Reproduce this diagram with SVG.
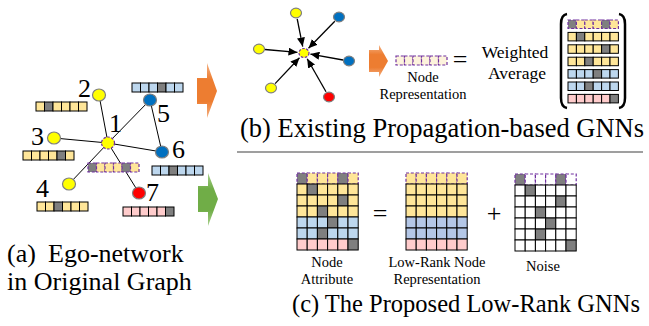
<svg xmlns="http://www.w3.org/2000/svg" width="649" height="326" viewBox="0 0 649 326" font-family="'Liberation Serif','Times New Roman',serif">
<style>
text{font-family:"Liberation Serif","Times New Roman",serif;fill:#000}
.lbl{font-size:26px}
.num{font-size:26px}
.sm{font-size:14.5px;text-anchor:middle}
.edge{stroke:#000;stroke-width:1;fill:none}
.arr{stroke:#000;stroke-width:1.3;fill:none;marker-end:url(#ah)}
.ny{fill:#FFFF00;stroke:#7F7F7F;stroke-width:1.2}
.nb{fill:#0070C0;stroke:#7F7F7F;stroke-width:1.2}
.nr{fill:#FF0000;stroke:#7F7F7F;stroke-width:1.2}
.nc{fill:#FFFF00;stroke:#7030A0;stroke-width:1.2;stroke-dasharray:2.5 1.5}
rect{stroke:#000;stroke-width:1}
.Y{fill:#FFE699}.G{fill:#7F7F7F}.B{fill:#BDD7EE}.P{fill:#FFCCCC}.W{fill:#FFFFFF}.L{fill:#B4C7E7}.V{fill:#FDF3DC}
.d{stroke:#7030A0;stroke-dasharray:3 1.8;stroke-width:1.2}
.br{stroke:#000;stroke-width:2.5;fill:none}
</style>
<defs>
<marker id="ah" markerUnits="userSpaceOnUse" markerWidth="9" markerHeight="8" viewBox="0 0 9 8" refX="9" refY="4" orient="auto"><path d="M0,0 L9,4 L0,8 z" fill="#000"/></marker>
<linearGradient id="og" x1="0" y1="0" x2="0" y2="1"><stop offset="0" stop-color="#F4B183"/><stop offset="0.3" stop-color="#ED7D31"/><stop offset="0.7" stop-color="#ED7D31"/><stop offset="1" stop-color="#F4B183"/></linearGradient>
<linearGradient id="gg" x1="0" y1="0" x2="0" y2="1"><stop offset="0" stop-color="#A9D18E"/><stop offset="0.3" stop-color="#70AD47"/><stop offset="0.7" stop-color="#70AD47"/><stop offset="1" stop-color="#A9D18E"/></linearGradient>
</defs>

<!-- (a) ego network -->
<g id="connectors-a">
<line class="edge" x1="108" y1="143" x2="99" y2="95"/>
<line class="edge" x1="108" y1="143" x2="54" y2="138"/>
<line class="edge" x1="108" y1="143" x2="69" y2="184"/>
<line class="edge" x1="108" y1="143" x2="150" y2="100"/>
<line class="edge" x1="108" y1="143" x2="162" y2="152"/>
<line class="edge" x1="108" y1="143" x2="139" y2="193"/>
<line class="edge" x1="150" y1="100" x2="162" y2="152"/>
</g>
<g id="node-a2"><ellipse class="ny" cx="99" cy="95" rx="6.5" ry="6"/><text class="num" x="78" y="97">2</text>
<g transform="translate(36,102)"><rect class="Y" x="0" width="8.5" height="9"/><rect class="G" x="8.5" width="8.5" height="9"/><rect class="Y" x="17" width="8.5" height="9"/><rect class="Y" x="25.5" width="8.5" height="9"/><rect class="Y" x="34" width="8.5" height="9"/><rect class="Y" x="42.5" width="8.5" height="9"/></g></g>
<g id="node-a3"><ellipse class="ny" cx="54" cy="138" rx="6.5" ry="6"/><text class="num" x="31" y="145">3</text>
<g transform="translate(23,151)"><rect class="Y" x="0" width="8.5" height="9"/><rect class="Y" x="8.5" width="8.5" height="9"/><rect class="Y" x="17" width="8.5" height="9"/><rect class="Y" x="25.5" width="8.5" height="9"/><rect class="G" x="34" width="8.5" height="9"/><rect class="Y" x="42.5" width="8.5" height="9"/></g></g>
<g id="node-a4"><ellipse class="ny" cx="69" cy="184" rx="6.5" ry="6"/><text class="num" x="36" y="197">4</text>
<g transform="translate(37,202)"><rect class="Y" x="0" width="8.5" height="9"/><rect class="Y" x="8.5" width="8.5" height="9"/><rect class="G" x="17" width="8.5" height="9"/><rect class="Y" x="25.5" width="8.5" height="9"/><rect class="Y" x="34" width="8.5" height="9"/><rect class="Y" x="42.5" width="8.5" height="9"/></g></g>
<g id="node-a5"><ellipse class="nb" cx="150" cy="100" rx="6.5" ry="6"/><text class="num" x="157" y="122">5</text>
<g transform="translate(132,83)"><rect class="B" x="0" width="8.5" height="9"/><rect class="B" x="8.5" width="8.5" height="9"/><rect class="B" x="17" width="8.5" height="9"/><rect class="G" x="25.5" width="8.5" height="9"/><rect class="B" x="34" width="8.5" height="9"/><rect class="B" x="42.5" width="8.5" height="9"/></g></g>
<g id="node-a6"><ellipse class="nb" cx="162" cy="152" rx="6.5" ry="6"/><text class="num" x="172" y="158">6</text>
<g transform="translate(152,166)"><rect class="B" x="0" width="8.5" height="9"/><rect class="B" x="8.5" width="8.5" height="9"/><rect class="G" x="17" width="8.5" height="9"/><rect class="B" x="25.5" width="8.5" height="9"/><rect class="B" x="34" width="8.5" height="9"/><rect class="B" x="42.5" width="8.5" height="9"/></g></g>
<g id="node-a7"><ellipse class="nr" cx="139" cy="193" rx="6.5" ry="6"/><text class="num" x="146" y="201">7</text>
<g transform="translate(123,207)"><rect class="P" x="0" width="8.5" height="9"/><rect class="P" x="8.5" width="8.5" height="9"/><rect class="P" x="17" width="8.5" height="9"/><rect class="P" x="25.5" width="8.5" height="9"/><rect class="P" x="34" width="8.5" height="9"/><rect class="G" x="42.5" width="8.5" height="9"/></g></g>
<g id="node-a1"><ellipse class="nc" cx="108" cy="143" rx="6.5" ry="6"/><text class="num" x="109" y="132">1</text>
<g transform="translate(88,163)"><rect class="G d" x="0" width="8.5" height="9"/><rect class="Y d" x="8.5" width="8.5" height="9"/><rect class="Y d" x="17" width="8.5" height="9"/><rect class="Y d" x="25.5" width="8.5" height="9"/><rect class="G d" x="34" width="8.5" height="9"/><rect class="Y d" x="42.5" width="8.5" height="9"/></g></g>
<g id="caption-a"><text class="lbl" x="7" y="262">(a)</text><text class="lbl" x="48" y="262">Ego-network</text><text class="lbl" x="7" y="290">in Original Graph</text></g>

<!-- big arrows -->
<g id="arrow-orange"><polygon points="197,78 207,78 207,63 217,91 207,118 207,104 197,104" fill="url(#og)"/></g>
<g id="arrow-green"><polygon points="198,186 208,186 208,173 218,199 208,226 208,212 198,212" fill="url(#gg)"/></g>

<!-- (b) -->
<g id="connectors-b">
<line class="arr" x1="297.2" y1="18.9" x2="302.7" y2="46.6"/>
<line class="arr" x1="334.8" y1="21.3" x2="308.5" y2="48.3"/>
<line class="arr" x1="265" y1="49.5" x2="297.5" y2="52.4"/>
<line class="arr" x1="343" y1="60" x2="310.4" y2="54.1"/>
<line class="arr" x1="275.1" y1="83.6" x2="299.5" y2="57.7"/>
<line class="arr" x1="326" y1="91.8" x2="307.2" y2="58.7"/>
</g>
<g id="node-b-c"><ellipse class="nc" cx="304" cy="53" rx="5" ry="4.5"/></g>
<g id="node-b1"><ellipse class="ny" cx="296" cy="13" rx="5.5" ry="4.8"/></g>
<g id="node-b2"><ellipse class="nb" cx="339" cy="17" rx="5.5" ry="4.8"/></g>
<g id="node-b3"><ellipse class="ny" cx="259" cy="49" rx="5.5" ry="4.8"/></g>
<g id="node-b4"><ellipse class="nb" cx="349" cy="61" rx="5.5" ry="4.8"/></g>
<g id="node-b5"><ellipse class="ny" cx="271" cy="88" rx="5.5" ry="4.8"/></g>
<g id="node-b6"><ellipse class="nr" cx="329" cy="97" rx="5.5" ry="4.8"/></g>
<g id="arrow-orange-small"><polygon points="369,50 379,50 379,45 388,61 379,77 379,72 369,72" fill="url(#og)"/></g>
<g id="node-rep-b">
<g transform="translate(396,56)"><rect class="V d" x="0" width="8.5" height="9"/><rect class="V d" x="8.5" width="8.5" height="9"/><rect class="V d" x="17" width="8.5" height="9"/><rect class="V d" x="25.5" width="8.5" height="9"/><rect class="V d" x="34" width="8.5" height="9"/><rect class="V d" x="42.5" width="8.5" height="9"/></g>
<text class="sm" x="423" y="82">Node</text><text class="sm" x="423" y="99">Representation</text>
</g>
<text x="460" y="68" style="font-size:26px;text-anchor:middle">=</text>
<text x="515" y="58" style="font-size:17.5px;text-anchor:middle">Weighted</text>
<text x="517" y="79" style="font-size:17.5px;text-anchor:middle">Average</text>
<g id="matrix-b">
<path class="br" d="M567,14 Q561,15 561,24 L561,98 Q561,107 567,108"/>
<path class="br" d="M619,14 Q625,15 625,24 L625,98 Q625,107 619,108"/>
<g transform="translate(568,20)"><rect class="G d" x="0" width="8.4" height="8.5"/><rect class="Y d" x="8.4" width="8.4" height="8.5"/><rect class="Y d" x="16.8" width="8.4" height="8.5"/><rect class="Y d" x="25.2" width="8.4" height="8.5"/><rect class="G d" x="33.6" width="8.4" height="8.5"/><rect class="Y d" x="42" width="8.4" height="8.5"/></g>
<g transform="translate(568,32.4)"><rect class="Y" x="0" width="8.4" height="8.5"/><rect class="G" x="8.4" width="8.4" height="8.5"/><rect class="Y" x="16.8" width="8.4" height="8.5"/><rect class="Y" x="25.2" width="8.4" height="8.5"/><rect class="Y" x="33.6" width="8.4" height="8.5"/><rect class="Y" x="42" width="8.4" height="8.5"/></g>
<g transform="translate(568,44.8)"><rect class="Y" x="0" width="8.4" height="8.5"/><rect class="Y" x="8.4" width="8.4" height="8.5"/><rect class="Y" x="16.8" width="8.4" height="8.5"/><rect class="Y" x="25.2" width="8.4" height="8.5"/><rect class="G" x="33.6" width="8.4" height="8.5"/><rect class="Y" x="42" width="8.4" height="8.5"/></g>
<g transform="translate(568,57.2)"><rect class="Y" x="0" width="8.4" height="8.5"/><rect class="Y" x="8.4" width="8.4" height="8.5"/><rect class="G" x="16.8" width="8.4" height="8.5"/><rect class="Y" x="25.2" width="8.4" height="8.5"/><rect class="Y" x="33.6" width="8.4" height="8.5"/><rect class="Y" x="42" width="8.4" height="8.5"/></g>
<g transform="translate(568,69.6)"><rect class="B" x="0" width="8.4" height="8.5"/><rect class="B" x="8.4" width="8.4" height="8.5"/><rect class="B" x="16.8" width="8.4" height="8.5"/><rect class="G" x="25.2" width="8.4" height="8.5"/><rect class="B" x="33.6" width="8.4" height="8.5"/><rect class="B" x="42" width="8.4" height="8.5"/></g>
<g transform="translate(568,82)"><rect class="B" x="0" width="8.4" height="8.5"/><rect class="B" x="8.4" width="8.4" height="8.5"/><rect class="G" x="16.8" width="8.4" height="8.5"/><rect class="B" x="25.2" width="8.4" height="8.5"/><rect class="B" x="33.6" width="8.4" height="8.5"/><rect class="B" x="42" width="8.4" height="8.5"/></g>
<g transform="translate(568,94.4)"><rect class="P" x="0" width="8.4" height="8.5"/><rect class="P" x="8.4" width="8.4" height="8.5"/><rect class="P" x="16.8" width="8.4" height="8.5"/><rect class="P" x="25.2" width="8.4" height="8.5"/><rect class="P" x="33.6" width="8.4" height="8.5"/><rect class="G" x="42" width="8.4" height="8.5"/></g>
</g>
<text class="lbl" x="240" y="137" style="font-size:26.5px">(b) Existing Propagation-based GNNs</text>
<line x1="237" y1="152" x2="643" y2="152" stroke="#7F7F7F" stroke-width="1.5"/>

<!-- (c) -->
<g id="matrix-attr" transform="translate(297,173)">
<g><rect class="G d" x="0" width="10.2" height="11"/><rect class="Y d" x="10.2" width="10.2" height="11"/><rect class="Y d" x="20.4" width="10.2" height="11"/><rect class="Y d" x="30.6" width="10.2" height="11"/><rect class="G d" x="40.8" width="10.2" height="11"/><rect class="Y d" x="51" width="10.2" height="11"/></g>
<g transform="translate(0,11)"><rect class="Y" x="0" width="10.2" height="11"/><rect class="G" x="10.2" width="10.2" height="11"/><rect class="Y" x="20.4" width="10.2" height="11"/><rect class="Y" x="30.6" width="10.2" height="11"/><rect class="Y" x="40.8" width="10.2" height="11"/><rect class="Y" x="51" width="10.2" height="11"/></g>
<g transform="translate(0,22)"><rect class="Y" x="0" width="10.2" height="11"/><rect class="Y" x="10.2" width="10.2" height="11"/><rect class="Y" x="20.4" width="10.2" height="11"/><rect class="Y" x="30.6" width="10.2" height="11"/><rect class="G" x="40.8" width="10.2" height="11"/><rect class="Y" x="51" width="10.2" height="11"/></g>
<g transform="translate(0,33)"><rect class="Y" x="0" width="10.2" height="11"/><rect class="Y" x="10.2" width="10.2" height="11"/><rect class="G" x="20.4" width="10.2" height="11"/><rect class="Y" x="30.6" width="10.2" height="11"/><rect class="Y" x="40.8" width="10.2" height="11"/><rect class="Y" x="51" width="10.2" height="11"/></g>
<g transform="translate(0,44)"><rect class="B" x="0" width="10.2" height="11"/><rect class="B" x="10.2" width="10.2" height="11"/><rect class="B" x="20.4" width="10.2" height="11"/><rect class="G" x="30.6" width="10.2" height="11"/><rect class="B" x="40.8" width="10.2" height="11"/><rect class="B" x="51" width="10.2" height="11"/></g>
<g transform="translate(0,55)"><rect class="B" x="0" width="10.2" height="11"/><rect class="B" x="10.2" width="10.2" height="11"/><rect class="G" x="20.4" width="10.2" height="11"/><rect class="B" x="30.6" width="10.2" height="11"/><rect class="B" x="40.8" width="10.2" height="11"/><rect class="B" x="51" width="10.2" height="11"/></g>
<g transform="translate(0,66)"><rect class="P" x="0" width="10.2" height="11"/><rect class="P" x="10.2" width="10.2" height="11"/><rect class="P" x="20.4" width="10.2" height="11"/><rect class="P" x="30.6" width="10.2" height="11"/><rect class="P" x="40.8" width="10.2" height="11"/><rect class="G" x="51" width="10.2" height="11"/></g>
</g>
<text class="sm" x="327" y="267">Node</text><text class="sm" x="327" y="284">Attribute</text>
<text x="380" y="222" style="font-size:26px;text-anchor:middle">=</text>
<g id="matrix-lowrank" transform="translate(406,173)">
<g><rect class="Y d" x="0" width="10.2" height="11"/><rect class="Y d" x="10.2" width="10.2" height="11"/><rect class="Y d" x="20.4" width="10.2" height="11"/><rect class="Y d" x="30.6" width="10.2" height="11"/><rect class="Y d" x="40.8" width="10.2" height="11"/><rect class="Y d" x="51" width="10.2" height="11"/></g>
<g transform="translate(0,11)"><rect class="Y" x="0" width="10.2" height="11"/><rect class="Y" x="10.2" width="10.2" height="11"/><rect class="Y" x="20.4" width="10.2" height="11"/><rect class="Y" x="30.6" width="10.2" height="11"/><rect class="Y" x="40.8" width="10.2" height="11"/><rect class="Y" x="51" width="10.2" height="11"/></g>
<g transform="translate(0,22)"><rect class="Y" x="0" width="10.2" height="11"/><rect class="Y" x="10.2" width="10.2" height="11"/><rect class="Y" x="20.4" width="10.2" height="11"/><rect class="Y" x="30.6" width="10.2" height="11"/><rect class="Y" x="40.8" width="10.2" height="11"/><rect class="Y" x="51" width="10.2" height="11"/></g>
<g transform="translate(0,33)"><rect class="Y" x="0" width="10.2" height="11"/><rect class="Y" x="10.2" width="10.2" height="11"/><rect class="Y" x="20.4" width="10.2" height="11"/><rect class="Y" x="30.6" width="10.2" height="11"/><rect class="Y" x="40.8" width="10.2" height="11"/><rect class="Y" x="51" width="10.2" height="11"/></g>
<g transform="translate(0,44)"><rect class="L" x="0" width="10.2" height="11"/><rect class="L" x="10.2" width="10.2" height="11"/><rect class="L" x="20.4" width="10.2" height="11"/><rect class="L" x="30.6" width="10.2" height="11"/><rect class="L" x="40.8" width="10.2" height="11"/><rect class="L" x="51" width="10.2" height="11"/></g>
<g transform="translate(0,55)"><rect class="L" x="0" width="10.2" height="11"/><rect class="L" x="10.2" width="10.2" height="11"/><rect class="L" x="20.4" width="10.2" height="11"/><rect class="L" x="30.6" width="10.2" height="11"/><rect class="L" x="40.8" width="10.2" height="11"/><rect class="L" x="51" width="10.2" height="11"/></g>
<g transform="translate(0,66)"><rect class="P" x="0" width="10.2" height="11"/><rect class="P" x="10.2" width="10.2" height="11"/><rect class="P" x="20.4" width="10.2" height="11"/><rect class="P" x="30.6" width="10.2" height="11"/><rect class="P" x="40.8" width="10.2" height="11"/><rect class="P" x="51" width="10.2" height="11"/></g>
</g>
<text class="sm" x="437" y="267">Low-Rank Node</text><text class="sm" x="437" y="284">Representation</text>
<text x="494" y="222" style="font-size:26px;text-anchor:middle">+</text>
<g id="matrix-noise" transform="translate(515,174)">
<g><rect class="G d" x="0" width="10.2" height="11"/><rect class="W d" x="10.2" width="10.2" height="11"/><rect class="W d" x="20.4" width="10.2" height="11"/><rect class="W d" x="30.6" width="10.2" height="11"/><rect class="G d" x="40.8" width="10.2" height="11"/><rect class="W d" x="51" width="10.2" height="11"/></g>
<g transform="translate(0,11)"><rect class="W" x="0" width="10.2" height="11"/><rect class="G" x="10.2" width="10.2" height="11"/><rect class="W" x="20.4" width="10.2" height="11"/><rect class="W" x="30.6" width="10.2" height="11"/><rect class="W" x="40.8" width="10.2" height="11"/><rect class="W" x="51" width="10.2" height="11"/></g>
<g transform="translate(0,22)"><rect class="W" x="0" width="10.2" height="11"/><rect class="W" x="10.2" width="10.2" height="11"/><rect class="W" x="20.4" width="10.2" height="11"/><rect class="W" x="30.6" width="10.2" height="11"/><rect class="G" x="40.8" width="10.2" height="11"/><rect class="W" x="51" width="10.2" height="11"/></g>
<g transform="translate(0,33)"><rect class="W" x="0" width="10.2" height="11"/><rect class="W" x="10.2" width="10.2" height="11"/><rect class="G" x="20.4" width="10.2" height="11"/><rect class="W" x="30.6" width="10.2" height="11"/><rect class="W" x="40.8" width="10.2" height="11"/><rect class="W" x="51" width="10.2" height="11"/></g>
<g transform="translate(0,44)"><rect class="W" x="0" width="10.2" height="11"/><rect class="W" x="10.2" width="10.2" height="11"/><rect class="W" x="20.4" width="10.2" height="11"/><rect class="G" x="30.6" width="10.2" height="11"/><rect class="W" x="40.8" width="10.2" height="11"/><rect class="W" x="51" width="10.2" height="11"/></g>
<g transform="translate(0,55)"><rect class="W" x="0" width="10.2" height="11"/><rect class="W" x="10.2" width="10.2" height="11"/><rect class="G" x="20.4" width="10.2" height="11"/><rect class="W" x="30.6" width="10.2" height="11"/><rect class="W" x="40.8" width="10.2" height="11"/><rect class="W" x="51" width="10.2" height="11"/></g>
<g transform="translate(0,66)"><rect class="W" x="0" width="10.2" height="11"/><rect class="W" x="10.2" width="10.2" height="11"/><rect class="W" x="20.4" width="10.2" height="11"/><rect class="W" x="30.6" width="10.2" height="11"/><rect class="W" x="40.8" width="10.2" height="11"/><rect class="G" x="51" width="10.2" height="11"/></g>
</g>
<text class="sm" x="543" y="271">Noise</text>
<text class="lbl" x="292" y="312" style="font-size:24.5px">(c) The Proposed Low-Rank GNNs</text>
</svg>
